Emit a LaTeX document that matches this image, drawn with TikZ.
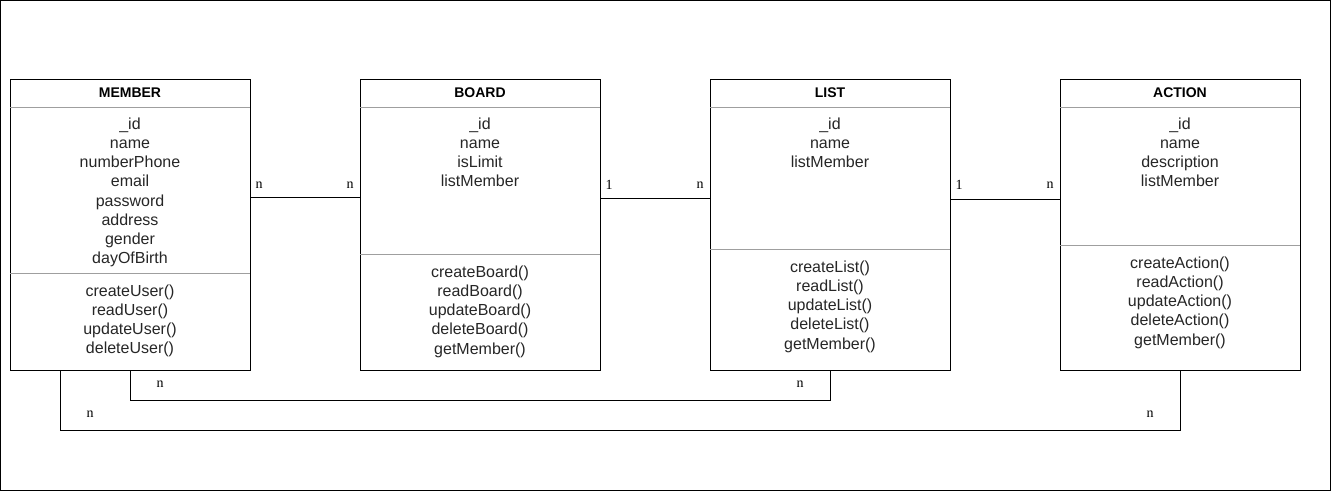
\documentclass[tikz,border=0pt]{standalone}
\usepackage{fontspec}
\setmainfont{Liberation Sans}
\newfontfamily\cardfont{Liberation Serif}
\usetikzlibrary{calc,positioning}

\begin{document}
\begin{tikzpicture}[x=1pt,y=-1pt,
  cls/.style={draw=black,line width=1pt,minimum width=240pt,minimum height=290pt,
              inner sep=0pt,outer sep=0pt},
  head/.style={font=\fontsize{14}{16.8}\selectfont\bfseries,anchor=base,inner sep=0pt},
  item/.style={font=\fontsize{16}{19.2}\selectfont,anchor=base,inner sep=0pt,text=black!85},
  sep/.style={draw=gray!75,line width=.8pt},
  conn/.style={black,line width=1pt},
  card/.style={font=\cardfont\fontsize{14}{16}\selectfont,inner sep=0pt}
]
\useasboundingbox (0,0) rectangle (1332,492);
\draw[line width=1pt] (0.5,0.5) rectangle (1330,490.5);

% classes
\node[cls] (member) at (130,225) {};
\node[cls,right=110pt of member] (board) {};
\node[cls,right=110pt of board] (list) {};
\node[cls,right=110pt of list] (action) {};

% MEMBER
\node[head] (member-h) at ($(member.north)+(0,18)$) {MEMBER};
\draw[sep] ($(member.north west)+(0,27)$) -- ($(member.north east)+(0,27)$);
\draw[sep] ($(member.north west)+(0,193)$) -- ($(member.north east)+(0,193)$);
\foreach \a [count=\i] in {\_id,name,numberPhone,email,password,address,gender,dayOfBirth}{
  \node[item] (member-a\i) at ($(member.north)+(0,30+19.2*\i)$) {\a};
}
\foreach \m [count=\i] in {createUser(),readUser(),updateUser(),deleteUser()}{
  \node[item] (member-m\i) at ($(member.north)+(0,197+19.2*\i)$) {\m};
}

% BOARD
\node[head] (board-h) at ($(board.north)+(0,18)$) {BOARD};
\draw[sep] ($(board.north west)+(0,27)$) -- ($(board.north east)+(0,27)$);
\draw[sep] ($(board.north west)+(0,174)$) -- ($(board.north east)+(0,174)$);
\foreach \a [count=\i] in {\_id,name,isLimit,listMember}{
  \node[item] (board-a\i) at ($(board.north)+(0,30+19.2*\i)$) {\a};
}
\foreach \m [count=\i] in {createBoard(),readBoard(),updateBoard(),deleteBoard(),getMember()}{
  \node[item] (board-m\i) at ($(board.north)+(0,178+19.2*\i)$) {\m};
}

% LIST
\node[head] (list-h) at ($(list.north)+(0,18)$) {LIST};
\draw[sep] ($(list.north west)+(0,27)$) -- ($(list.north east)+(0,27)$);
\draw[sep] ($(list.north west)+(0,169)$) -- ($(list.north east)+(0,169)$);
\foreach \a [count=\i] in {\_id,name,listMember}{
  \node[item] (list-a\i) at ($(list.north)+(0,30+19.2*\i)$) {\a};
}
\foreach \m [count=\i] in {createList(),readList(),updateList(),deleteList(),getMember()}{
  \node[item] (list-m\i) at ($(list.north)+(0,173+19.2*\i)$) {\m};
}

% ACTION
\node[head] (action-h) at ($(action.north)+(0,18)$) {ACTION};
\draw[sep] ($(action.north west)+(0,27)$) -- ($(action.north east)+(0,27)$);
\draw[sep] ($(action.north west)+(0,165)$) -- ($(action.north east)+(0,165)$);
\foreach \a [count=\i] in {\_id,name,description,listMember}{
  \node[item] (action-a\i) at ($(action.north)+(0,30+19.2*\i)$) {\a};
}
\foreach \m [count=\i] in {createAction(),readAction(),updateAction(),deleteAction(),getMember()}{
  \node[item] (action-m\i) at ($(action.north)+(0,169+19.2*\i)$) {\m};
}

% associations
\draw[conn] ([yshift=28pt]member.east) -- ([yshift=28pt]board.west);
\draw[conn] ([yshift=27pt]board.east) -- ([yshift=27pt]list.west);
\draw[conn] ([yshift=26pt]list.east) -- ([yshift=26pt]action.west);
\draw[conn] (member.south) -- ++(0,30) -| (list.south);
\draw[conn] ([xshift=-70pt]member.south) -- ++(0,60) -| (action.south);

% multiplicities
\node[card] (mb-1) at ($(member.east)+(9,-40)$) {n};
\node[card] (mb-2) at ($(board.west)+(-10,-40)$) {n};
\node[card] (bl-1) at ($(board.east)+(9,-40)$) {1};
\node[card] (bl-2) at ($(list.west)+(-10,-40)$) {n};
\node[card] (la-1) at ($(list.east)+(9,-40)$) {1};
\node[card] (la-2) at ($(action.west)+(-10,-40)$) {n};
\node[card] (ml-1) at ($(member.south)+(30,14)$) {n};
\node[card] (ml-2) at ($(list.south)+(-30,14)$) {n};
\node[card] (ma-1) at ($(member.south)+(-40,44)$) {n};
\node[card] (ma-2) at ($(action.south)+(-30,44)$) {n};
\end{tikzpicture}
\end{document}
